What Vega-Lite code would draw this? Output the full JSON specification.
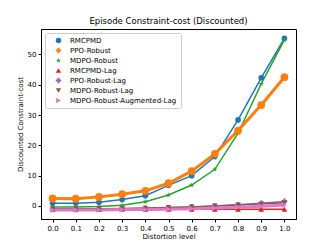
{
  "$schema": "https://vega.github.io/schema/vega-lite/v6.json",
  "width": 255,
  "height": 190,
  "autosize": {"type": "none"},
  "padding": {"left": 41, "top": 29, "right": 33, "bottom": 28},
  "background": "white",
  "config": {
    "font": "DejaVu Sans",
    "view": {"stroke": "black", "strokeWidth": 1},
    "axis": {"grid": false, "domainColor": "black", "tickColor": "black", "labelColor": "black", "titleColor": "black", "labelFontSize": 7, "titleFontSize": 7, "titleFontWeight": "normal", "tickSize": 3, "labelPadding": 2},
    "legend": {"symbolSize": 30, "symbolStrokeWidth": 0, "rowPadding": 2, "labelFontSize": 7, "labelColor": "black", "labelOffset": 8, "symbolOffset": 6, "padding": 4, "strokeColor": "#cccccc", "fillColor": "white", "cornerRadius": 2, "offset": 4}
  },
  "title": {"text": "Episode Constraint-cost (Discounted)", "fontSize": 8.5, "fontWeight": "normal", "color": "black", "offset": 4},
  "data": {"values": [
    {"x":0.0,"s":"RMCPMD","y":0.9},{"x":0.1,"s":"RMCPMD","y":0.9},{"x":0.2,"s":"RMCPMD","y":1.2},{"x":0.3,"s":"RMCPMD","y":2.1},{"x":0.4,"s":"RMCPMD","y":3.4},{"x":0.5,"s":"RMCPMD","y":6.8},{"x":0.6,"s":"RMCPMD","y":10.0},{"x":0.7,"s":"RMCPMD","y":16.3},{"x":0.8,"s":"RMCPMD","y":28.4},{"x":0.9,"s":"RMCPMD","y":42.3},{"x":1.0,"s":"RMCPMD","y":55.3},
    {"x":0.0,"s":"PPO-Robust","y":2.5},{"x":0.1,"s":"PPO-Robust","y":2.4},{"x":0.2,"s":"PPO-Robust","y":3.0},{"x":0.3,"s":"PPO-Robust","y":3.9},{"x":0.4,"s":"PPO-Robust","y":5.0},{"x":0.5,"s":"PPO-Robust","y":7.5},{"x":0.6,"s":"PPO-Robust","y":11.5},{"x":0.7,"s":"PPO-Robust","y":17.2},{"x":0.8,"s":"PPO-Robust","y":24.9},{"x":0.9,"s":"PPO-Robust","y":33.3},{"x":1.0,"s":"PPO-Robust","y":42.5},
    {"x":0.0,"s":"MDPO-Robust","y":-0.3},{"x":0.1,"s":"MDPO-Robust","y":-0.3},{"x":0.2,"s":"MDPO-Robust","y":-0.2},{"x":0.3,"s":"MDPO-Robust","y":0.2},{"x":0.4,"s":"MDPO-Robust","y":1.4},{"x":0.5,"s":"MDPO-Robust","y":3.6},{"x":0.6,"s":"MDPO-Robust","y":6.9},{"x":0.7,"s":"MDPO-Robust","y":12.1},{"x":0.8,"s":"MDPO-Robust","y":24.0},{"x":0.9,"s":"MDPO-Robust","y":40.3},{"x":1.0,"s":"MDPO-Robust","y":54.8},
    {"x":0.0,"s":"RMCPMD-Lag","y":-1.1},{"x":0.1,"s":"RMCPMD-Lag","y":-1.1},{"x":0.2,"s":"RMCPMD-Lag","y":-1.1},{"x":0.3,"s":"RMCPMD-Lag","y":-1.1},{"x":0.4,"s":"RMCPMD-Lag","y":-1.1},{"x":0.5,"s":"RMCPMD-Lag","y":-1.1},{"x":0.6,"s":"RMCPMD-Lag","y":-1.1},{"x":0.7,"s":"RMCPMD-Lag","y":-1.1},{"x":0.8,"s":"RMCPMD-Lag","y":-1.1},{"x":0.9,"s":"RMCPMD-Lag","y":-1.1},{"x":1.0,"s":"RMCPMD-Lag","y":-1.1},
    {"x":0.0,"s":"PPO-Robust-Lag","y":-1.1},{"x":0.1,"s":"PPO-Robust-Lag","y":-1.1},{"x":0.2,"s":"PPO-Robust-Lag","y":-1.0},{"x":0.3,"s":"PPO-Robust-Lag","y":-0.9},{"x":0.4,"s":"PPO-Robust-Lag","y":-0.8},{"x":0.5,"s":"PPO-Robust-Lag","y":-0.6},{"x":0.6,"s":"PPO-Robust-Lag","y":-0.3},{"x":0.7,"s":"PPO-Robust-Lag","y":0.0},{"x":0.8,"s":"PPO-Robust-Lag","y":0.4},{"x":0.9,"s":"PPO-Robust-Lag","y":0.9},{"x":1.0,"s":"PPO-Robust-Lag","y":1.5},
    {"x":0.0,"s":"MDPO-Robust-Lag","y":-1.0},{"x":0.1,"s":"MDPO-Robust-Lag","y":-1.0},{"x":0.2,"s":"MDPO-Robust-Lag","y":-0.9},{"x":0.3,"s":"MDPO-Robust-Lag","y":-0.8},{"x":0.4,"s":"MDPO-Robust-Lag","y":-0.7},{"x":0.5,"s":"MDPO-Robust-Lag","y":-0.5},{"x":0.6,"s":"MDPO-Robust-Lag","y":-0.3},{"x":0.7,"s":"MDPO-Robust-Lag","y":0.0},{"x":0.8,"s":"MDPO-Robust-Lag","y":0.3},{"x":0.9,"s":"MDPO-Robust-Lag","y":0.7},{"x":1.0,"s":"MDPO-Robust-Lag","y":1.1},
    {"x":0.0,"s":"MDPO-Robust-Augmented-Lag","y":-1.3},{"x":0.1,"s":"MDPO-Robust-Augmented-Lag","y":-1.3},{"x":0.2,"s":"MDPO-Robust-Augmented-Lag","y":-1.3},{"x":0.3,"s":"MDPO-Robust-Augmented-Lag","y":-1.2},{"x":0.4,"s":"MDPO-Robust-Augmented-Lag","y":-1.2},{"x":0.5,"s":"MDPO-Robust-Augmented-Lag","y":-1.1},{"x":0.6,"s":"MDPO-Robust-Augmented-Lag","y":-0.9},{"x":0.7,"s":"MDPO-Robust-Augmented-Lag","y":-0.7},{"x":0.8,"s":"MDPO-Robust-Augmented-Lag","y":-0.4},{"x":0.9,"s":"MDPO-Robust-Augmented-Lag","y":-0.1},{"x":1.0,"s":"MDPO-Robust-Augmented-Lag","y":0.3}
  ]},
  "encoding": {
    "x": {"field": "x", "type": "quantitative", "title": "Distortion level",
      "scale": {"domain": [-0.05, 1.05], "nice": false, "zero": false},
      "axis": {"values": [0,0.1,0.2,0.3,0.4,0.5,0.6,0.7,0.8,0.9,1.0], "format": ".1f", "titlePadding": 1}},
    "y": {"field": "y", "type": "quantitative", "title": "Discounted Constraint-cost",
      "scale": {"domain": [-4.3, 58.4], "nice": false, "zero": false},
      "axis": {"values": [0,10,20,30,40,50], "titlePadding": 4}},
    "color": {"field": "s", "type": "nominal", "title": null,
      "scale": {"domain": ["RMCPMD","PPO-Robust","MDPO-Robust","RMCPMD-Lag","PPO-Robust-Lag","MDPO-Robust-Lag","MDPO-Robust-Augmented-Lag"],
        "range": ["#1f77b4","#ff7f0e","#2ca02c","#d62728","#9467bd","#8c564b","#e377c2"]},
      "legend": {"orient": "top-left"}}
  },
  "layer": [
    {
      "mark": {"type": "line", "strokeWidth": 1.5},
      "encoding": {"order": {"field": "x", "type": "quantitative"}}
    },
    {
      "transform": [{"filter": "datum.s === 'PPO-Robust' || datum.s === 'MDPO-Robust-Augmented-Lag'"}],
      "mark": {"type": "line", "strokeWidth": 3},
      "encoding": {"order": {"field": "x", "type": "quantitative"}}
    },
    {
      "mark": {"type": "point", "filled": true, "opacity": 1, "size": 32},
      "encoding": {
        "shape": {"field": "s", "type": "nominal", "title": null,
          "scale": {"domain": ["RMCPMD","PPO-Robust","MDPO-Robust","RMCPMD-Lag","PPO-Robust-Lag","MDPO-Robust-Lag","MDPO-Robust-Augmented-Lag"],
            "range": ["circle","cross","M0,-1L0.2245,-0.309L0.951,-0.309L0.363,0.118L0.588,0.809L0,0.382L-0.588,0.809L-0.363,0.118L-0.951,-0.309L-0.2245,-0.309Z","triangle-up","cross","triangle-down","triangle-right"]}}
      }
    },
    {
      "transform": [{"filter": "datum.s === 'PPO-Robust'"}],
      "mark": {"type": "point", "filled": true, "opacity": 1, "size": 60, "shape": "circle"},
      "encoding": {}
    },
    {
      "data": {"values": [{"t": 0}]},
      "mark": {"type": "rule", "color": "black", "strokeDash": [4, 2], "strokeWidth": 1.3},
      "encoding": {"y": {"datum": 0, "type": "quantitative"}, "x": null, "color": null}
    }
  ]
}
